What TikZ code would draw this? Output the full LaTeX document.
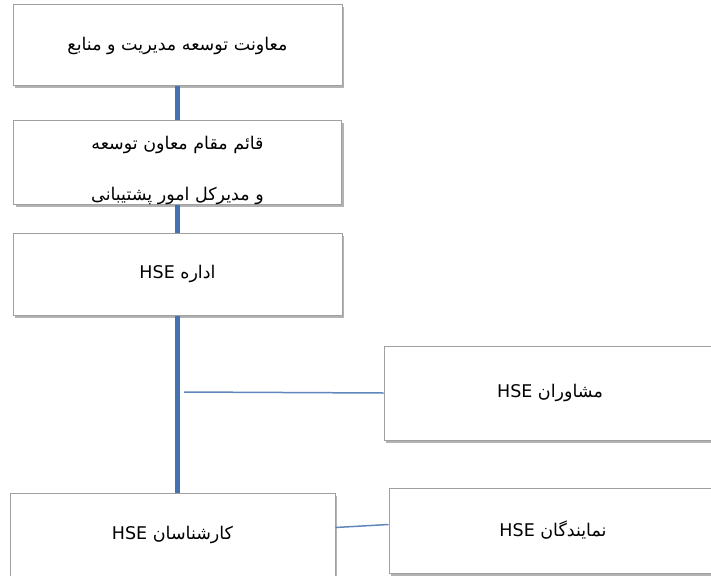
\documentclass[tikz,border=0pt]{standalone}
\usepackage{fontspec}
\newfontfamily\arabicfont[Script=Arabic]{DejaVu Sans}
\TeXXeTstate=1
\usetikzlibrary{shadows}
\definecolor{linkblue}{RGB}{68,114,176}
\definecolor{boxgray}{RGB}{160,160,160}

\begin{document}
\begin{tikzpicture}[x=1pt,y=-1pt]
\useasboundingbox (0,0) rectangle (711,575);
\clip (0,0) rectangle (711,575);

\begin{scope}[every node/.style={rectangle,draw=boxgray,line width=1pt,fill=white,
              drop shadow={shadow xshift=2pt,shadow yshift=-2.5pt,opacity=0.6},
              font={\arabicfont\fontsize{17.5}{20}\selectfont}}]
    \node[minimum width=329pt,minimum height=81pt] (V) at (177.5,45.5) {\beginR معاونت توسعه مدیریت و منابع\endR};
    \node[minimum width=328pt,minimum height=84pt] (Q) at (177.5,162.5)
        {\raisebox{-8pt}[\height][\depth]{\begin{tabular}{@{}c@{}}\beginR قائم مقام معاون توسعه\endR\\[31pt]\beginR و مدیرکل امور پشتیبانی\endR\end{tabular}}};
    \node[minimum width=329pt,minimum height=82pt] (E) at (177.5,274) {\beginR اداره \beginL HSE\endL\endR};
    \node[minimum width=332pt,minimum height=94pt] (M) at (550,393) {\beginR مشاوران \beginL HSE\endL\endR};
    \node[minimum width=325pt,minimum height=84pt] (K) at (172.5,535) {\beginR کارشناسان \beginL HSE\endL\endR};
    \node[minimum width=328pt,minimum height=85pt] (N) at (553,530.5) {\beginR نمایندگان \beginL HSE\endL\endR};
\end{scope}

\coordinate (hub) at (184,392);

\begin{scope}[every edge/.style={draw=linkblue,line width=4.5pt}]
    \path [-] (V) edge (Q);
    \path [-] (Q) edge (E);
    \path [-] (E.south) edge (E.south |- K.north);
\end{scope}

\begin{scope}[every edge/.style={draw=linkblue!85!white,line width=1.5pt}]
    \path [-] (hub) edge (M.west);
    \path [-] ([yshift=7.5pt]K.east) edge ([yshift=6pt]N.west);
\end{scope}
\end{tikzpicture}
\end{document}
